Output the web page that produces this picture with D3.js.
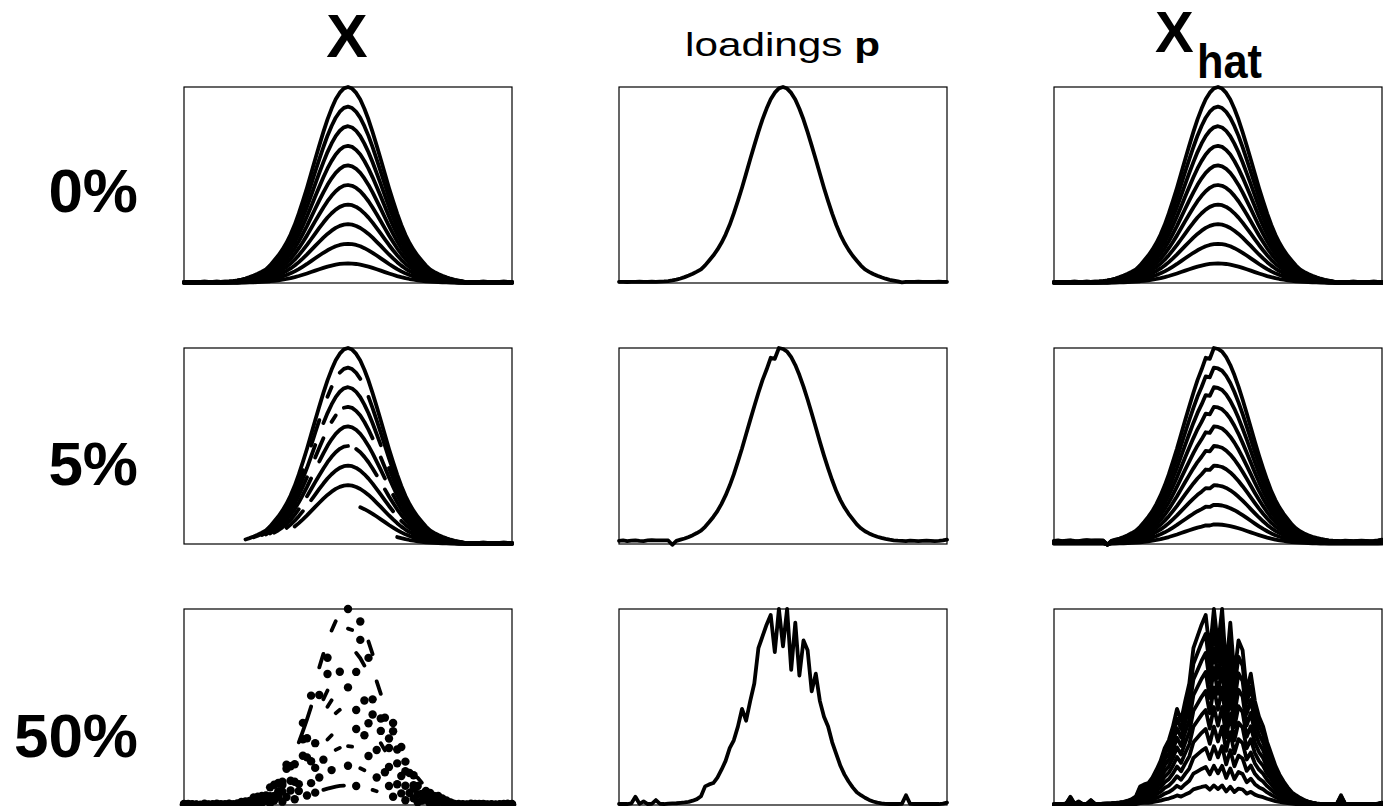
<!DOCTYPE html>
<html><head><meta charset="utf-8">
<script src="https://cdn.jsdelivr.net/npm/d3@7"></script>
<style>body{margin:0;background:#fff}svg{display:block}</style>
</head><body>
<svg id="c" width="1383" height="806"></svg>
<script>
// ---------- data ----------
const scores = [1.0, 0.9, 0.8, 0.7, 0.6, 0.5, 0.4, 0.3, 0.2, 0.1];

const loading0 = [
 0.006,0.006,0.005,0.006,0.006,0.007,0.006,0.006,0.007,0.006,
 0.007,0.008,0.010,0.013,0.017,0.023,0.030,0.038,0.047,0.058,
 0.070,0.090,0.115,0.140,0.170,0.205,0.247,0.297,0.355,0.419,
 0.486,0.558,0.631,0.702,0.771,0.835,0.890,0.937,0.971,0.993,
 1.000,0.992,0.970,0.936,0.889,0.834,0.770,0.701,0.630,0.557,
 0.485,0.418,0.354,0.296,0.246,0.204,0.169,0.139,0.114,0.089,
 0.069,0.057,0.046,0.037,0.029,0.022,0.016,0.012,0.008,0.003,
 0.006,0.006,0.006,0.007,0.006,0.006,0.006,0.006,0.007,0.006,0.006];

const loading5 = [
 0.016,0.018,0.015,0.017,0.019,0.016,0.015,0.018,0.020,0.018,
 0.019,0.019,0.018,-0.004,0.016,0.022,0.028,0.036,0.045,0.056,
 0.068,0.088,0.112,0.138,0.168,0.205,0.248,0.298,0.355,0.420,
 0.487,0.560,0.632,0.703,0.772,0.836,0.890,0.950,0.945,1.000,
 0.995,0.982,0.953,0.913,0.862,0.803,0.737,0.667,0.594,0.521,
 0.451,0.386,0.325,0.270,0.224,0.186,0.154,0.127,0.100,0.080,
 0.065,0.054,0.045,0.037,0.031,0.026,0.022,0.019,0.017,0.016,
 0.015,0.017,0.016,0.015,0.016,0.017,0.016,0.015,0.016,0.018,0.022];

const loading50 = [
 0.005,0.006,0.005,0.008,0.042,0.006,0.018,0.005,0.006,0.025,
 0.006,0.005,0.007,0.008,0.009,0.011,0.013,0.016,0.022,0.030,
 0.045,0.095,0.105,0.112,0.140,0.180,0.225,0.290,0.330,0.400,
 0.490,0.430,0.530,0.620,0.800,0.860,0.920,0.970,0.780,1.000,
 0.810,1.000,0.690,0.930,0.660,0.840,0.790,0.580,0.670,0.530,
 0.450,0.400,0.320,0.260,0.200,0.155,0.120,0.090,0.065,0.050,
 0.037,0.026,0.018,0.012,0.008,0.006,0.005,0.005,0.005,0.006,
 0.050,0.006,0.005,0.005,0.005,0.005,0.005,0.006,0.005,0.007,0.012];

// 5% missing: first observed variable per sample and isolated missing variables
const firstObserved5 = [15, 17, 19, 20, 21, 22, 25, 27, 43, 52];
const missing5 = [[], [30,34,37,44], [33,49], [31,35,38,47], [32,50], [29,41,48], [30,52], [], [], []];

// 50% missing: observed variables per sample
const observed50 = [
 [3,4,8,12,13,17,21,25,29,31,33,34,36,37,40,43,45,46,51,53,57,58,62,65,66,70,74,75,79],
 [1,5,9,10,14,18,22,25,28,29,30,31,35,40,41,43,45,47,48,51,54,56,60,63,67,68,72,76,77,80],
 [0,2,6,7,11,15,19,23,26,29,33,35,42,43,44,49,52,55,59,61,64,69,71,73,78],
 [2,3,7,11,16,20,24,27,30,34,35,38,42,46,48,50,54,57,60,63,66,67,71,75,79,80],
 [1,4,5,9,13,17,20,24,29,35,36,40,44,46,48,50,52,56,59,62,65,69,70,73,77],
 [0,3,6,10,14,18,21,23,26,30,32,37,38,42,45,48,49,53,56,58,61,64,68,72,74,78],
 [2,5,8,12,15,19,22,24,27,31,35,36,42,44,47,50,54,57,60,63,67,70,73,76,80],
 [1,4,7,11,14,16,20,23,26,28,32,34,37,38,40,41,45,49,52,55,59,62,66,69,72,75,79],
 [0,3,6,9,13,17,19,22,25,28,31,33,36,40,43,44,47,50,53,56,58,61,65,68,71,74,77,80],
 [2,5,8,10,14,18,21,24,27,30,32,34,35,36,37,38,39,42,46,47,51,54,57,60,64,67,70,73,76,79]
];

const rowLabels = ["0%", "5%", "50%"];

// ---------- layout ----------
const svg = d3.select("#c");
const FONT = "'Liberation Sans', Arial, Helvetica, sans-serif";
const colX = [184, 619, 1054], rowY = [87, 348, 609];
const W = 328, H = 196;
const nVar = loading0.length;
const x = d3.scaleLinear().domain([0, nVar - 1]).range([0, W]);
const y = d3.scaleLinear().domain([0, 1]).range([H, 0]);

function maskFromFirst(first, miss) {
  return d3.range(nVar).map(i => i >= first && !miss.includes(i));
}
function maskFromObserved(obs) {
  const s = new Set(obs);
  return d3.range(nVar).map(i => s.has(i));
}

const loadings = [loading0, loading5, loading50];
const fullMask = d3.range(nVar).map(() => true);
const xMasks = [
  scores.map(() => fullMask),
  scores.map((t, k) => maskFromFirst(firstObserved5[k], missing5[k])),
  scores.map((t, k) => maskFromObserved(observed50[k]))
];

function drawPanel(g, series) {
  g.append("rect").attr("x", 0).attr("y", 0).attr("width", W).attr("height", H)
    .attr("fill", "none").attr("stroke", "#000").attr("stroke-width", 1.2);
  series.forEach(s => {
    const line = d3.line().defined((d, i) => s.mask[i])
      .x((d, i) => x(i)).y(d => y(d));
    g.append("path").attr("d", line(s.values))
      .attr("fill", "none").attr("stroke", "#000").attr("stroke-width", 3.8)
      .attr("stroke-linecap", "round").attr("stroke-linejoin", "round");
    const iso = s.values.map((v, i) => ({v, i}))
      .filter(d => s.mask[d.i] && !s.mask[d.i - 1] && !s.mask[d.i + 1]);
    g.selectAll(null).data(iso).enter().append("circle")
      .attr("cx", d => x(d.i)).attr("cy", d => y(d.v)).attr("r", 4.2).attr("fill", "#000");
  });
}

rowLabels.forEach((lab, r) => {
  const p = loadings[r];
  const xSeries = scores.map((t, k) => ({values: loading0.map(v => t * v), mask: xMasks[r][k]}));
  const pSeries = [{values: p, mask: fullMask}];
  const hatSeries = scores.map(t => ({values: p.map(v => t * v), mask: fullMask}));
  [xSeries, pSeries, hatSeries].forEach((ser, c) => {
    const g = svg.append("g").attr("transform", `translate(${colX[c]},${rowY[r]})`);
    drawPanel(g, ser);
  });
});

// ---------- text ----------
const labelBase = [212, 485, 757];
rowLabels.forEach((lab, r) => {
  svg.append("text").attr("x", 138).attr("y", labelBase[r]).attr("text-anchor", "end")
    .attr("font-family", FONT).attr("font-weight", "bold").attr("font-size", 62).text(lab);
});

svg.append("text").attr("x", 347).attr("y", 57).attr("text-anchor", "middle")
  .attr("font-family", FONT).attr("font-weight", "bold").attr("font-size", 62).text("X");

const lp = svg.append("text").attr("x", 685).attr("y", 56)
  .attr("font-family", FONT).attr("font-size", 34)
  .attr("textLength", 195).attr("lengthAdjust", "spacingAndGlyphs");
lp.append("tspan").text("loadings ");
lp.append("tspan").attr("font-weight", "bold").text("p");

svg.append("text").attr("x", 1155).attr("y", 52)
  .attr("font-family", FONT).attr("font-weight", "bold").attr("font-size", 58).text("X");
svg.append("text").attr("x", 1197).attr("y", 78)
  .attr("font-family", FONT).attr("font-weight", "bold").attr("font-size", 48)
  .attr("textLength", 65).attr("lengthAdjust", "spacingAndGlyphs").text("hat");
</script>
</body></html>
